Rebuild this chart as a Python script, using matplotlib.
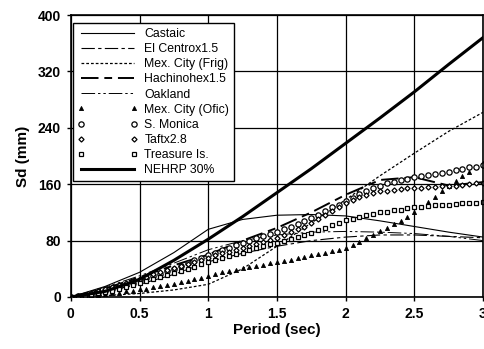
import matplotlib
matplotlib.use("Agg")
import matplotlib.pyplot as plt

# ---- data ----
period_lines = [0, 0.25, 0.5, 0.75, 1.0, 1.25, 1.5, 1.75, 2.0, 2.25, 2.5, 2.75, 3.0]
castaic      = [0, 15, 35, 63, 96, 110, 116, 117, 115, 108, 100, 92, 85]
el_centro    = [0, 8, 18, 32, 50, 62, 72, 80, 85, 88, 88, 86, 84]
mex_frig     = [0, 2, 5, 10, 18, 40, 72, 105, 138, 172, 204, 235, 262]
hachinohe    = [0, 12, 28, 45, 60, 80, 98, 120, 145, 166, 170, 158, 163]
oakland      = [0, 14, 30, 48, 67, 80, 88, 92, 93, 92, 90, 86, 80]
nehrp        = [0, 8, 25, 52, 82, 114, 148, 182, 218, 254, 291, 330, 368]

period_pts = [round(0.05 * i, 2) for i in range(61)]
mex_ofic = [0, 0, 1, 2, 3, 4, 5, 6, 8, 9,
            11, 12, 14, 15, 17, 19, 21, 23, 25, 27,
            30, 32, 35, 37, 39, 41, 43, 44, 46, 48,
            50, 51, 53, 55, 57, 59, 61, 63, 65, 67,
            70, 74, 78, 83, 88, 93, 98, 103, 108, 114,
            120, 127, 135, 142, 150, 157, 165, 172, 178, 184,
            190]
s_monica = [0, 1, 2, 4, 6, 9, 11, 14, 17, 20,
            24, 27, 30, 33, 37, 40, 44, 48, 52, 56,
            60, 63, 67, 70, 74, 77, 80, 83, 86, 89,
            92, 96, 100, 104, 108, 112, 117, 122, 127, 131,
            136, 141, 146, 150, 155, 158, 161, 163, 166, 168,
            170, 171, 173, 175, 176, 178, 180, 182, 184, 185,
            187]
taft = [0, 1, 3, 5, 8, 11, 14, 17, 20, 23,
        26, 29, 32, 35, 38, 41, 44, 47, 50, 53,
        56, 59, 62, 64, 67, 70, 72, 75, 78, 81,
        84, 88, 92, 96, 100, 105, 110, 116, 122, 127,
        133, 138, 142, 145, 148, 150, 151, 152, 153, 154,
        155, 155, 156, 156, 157, 157, 158, 159, 160, 161,
        162]
treasure = [0, 1, 2, 3, 5, 7, 9, 11, 14, 17,
            20, 22, 25, 28, 31, 34, 37, 40, 43, 47,
            50, 52, 55, 58, 61, 63, 66, 69, 72, 75,
            77, 80, 82, 85, 88, 91, 95, 98, 102, 105,
            109, 111, 114, 116, 118, 120, 121, 123, 124, 126,
            127, 128, 129, 130, 131, 131, 132, 133, 134, 134,
            135]

x_ticks = [0, 0.5, 1, 1.5, 2, 2.5, 3]
x_tick_labels = ["0", "0.5", "1", "1.5", "2", "2.5", "3"]
y_ticks = [0, 80, 160, 240, 320, 400]
y_tick_labels = ["0", "80", "160", "240", "320", "400"]

plt.rcParams['font.family'] = ['Liberation Sans', 'DejaVu Sans']

fig = plt.figure(figsize=(4.85, 3.49), dpi=100)
ax = fig.add_axes([0.146, 0.149, 0.850, 0.808])

ax.plot(period_lines, castaic, color='black', lw=0.8, ls='-', label='Castaic')
ax.plot(period_lines, el_centro, color='black', lw=0.8, ls=(0, (12, 3, 3, 3)), label='El Centrox1.5')
ax.plot(period_lines, mex_frig, color='black', lw=0.9, ls=(0, (2.2, 1.6)), label='Mex. City (Frig)')
ax.plot(period_lines, hachinohe, color='black', lw=1.4, ls=(0, (9, 3, 4, 3)), label='Hachinohex1.5')
ax.plot(period_lines, oakland, color='black', lw=0.7, ls=(0, (14, 3, 2.5, 3, 2.5, 3)), label='Oakland')
ax.plot(period_pts, mex_ofic, ls='none', marker='^', ms=3.0, mfc='black', mec='black', mew=0.6,
        label='Mex. City (Ofic)')
ax.plot(period_pts, s_monica, ls='none', marker='o', ms=3.8, mfc='white', mec='black', mew=0.9,
        label='S. Monica')
ax.plot(period_pts, taft, ls='none', marker='D', ms=2.6, mfc='white', mec='black', mew=0.9,
        label='Taftx2.8')
ax.plot(period_pts, treasure, ls='none', marker='s', ms=3.4, mfc='white', mec='black', mew=0.9,
        label='Treasure Is.')
ax.plot(period_lines, nehrp, color='black', lw=2.2, ls='-', label='NEHRP 30%')

ax.set_xlim(0, 3)
ax.set_ylim(0, 400)
ax.set_xticks(x_ticks)
ax.set_xticklabels(x_tick_labels)
ax.set_yticks(y_ticks)
ax.set_yticklabels(y_tick_labels)
ax.grid(True, color='black', lw=0.9)
ax.set_axisbelow(True)
for s in ax.spines.values():
    s.set_linewidth(1.2)
ax.tick_params(direction='out', length=3, width=1, labelsize=10, pad=4)
for lab in ax.get_xticklabels() + ax.get_yticklabels():
    lab.set_fontweight('bold')

ax.set_xlabel('Period (sec)', fontsize=11, fontweight='bold', labelpad=2)
ax.set_ylabel('Sd (mm)', fontsize=11, fontweight='bold', labelpad=6)

leg = ax.legend(loc='upper left', bbox_to_anchor=(0.005, 0.972), borderaxespad=0,
                fontsize=8.8, frameon=True, fancybox=False, edgecolor='black', framealpha=1,
                numpoints=2, handlelength=4.9, handletextpad=0.55, labelspacing=0.26,
                borderpad=0.4)
leg.get_frame().set_linewidth(1.0)

fig.savefig('out.png', dpi=100)
